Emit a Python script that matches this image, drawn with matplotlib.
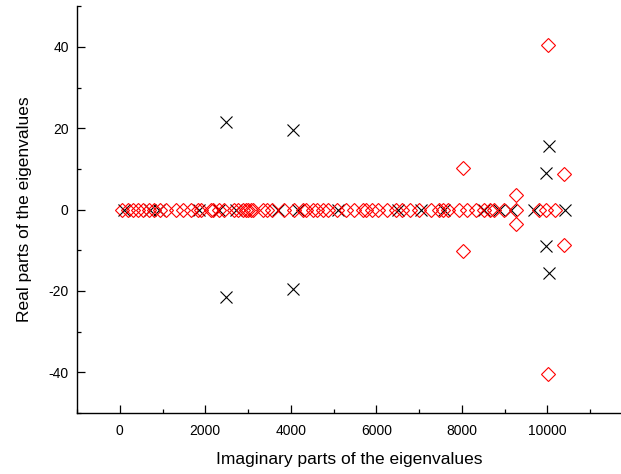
import matplotlib
matplotlib.use("Agg")
import matplotlib.pyplot as plt
from matplotlib.ticker import MultipleLocator

plt.rcParams['font.family'] = ['Liberation Sans', 'DejaVu Sans']
plt.rcParams['axes.unicode_minus'] = False

# Red diamonds on the real axis (imaginary parts)
red_axis_x = [60, 190, 300, 420, 540, 680, 810, 950, 1080, 1310, 1470, 1660,
              1830, 1900, 2130, 2170, 2320, 2440, 2670, 2760, 2880, 2950, 3010,
              3070, 3120, 3340, 3450, 3560, 3850, 4070, 4280, 4350, 4510, 4620,
              4750, 4860, 5090, 5300, 5480, 5700, 5760, 5910, 6030, 6260, 6455,
              6610, 6800, 7000, 7270, 7470, 7550, 7670, 7935, 8130, 8330, 8520,
              8670, 8750, 8990, 9280, 9800, 9960, 10170]
# Red diamonds off the axis (complex pairs)
red_pair_x = [8028, 9280, 10023, 10397]
red_pair_y = [10.2, 3.6, 40.5, 8.7]

# Black crosses on the real axis
black_axis_x = [100, 700, 920, 1850, 2320, 2720, 3700, 4160, 5100, 6500, 7040,
                7580, 8520, 8870, 9150, 9680, 10420]
# Black crosses off the axis (complex pairs)
black_pair_x = [2482, 4053, 9967, 10037]
black_pair_y = [21.4, 19.6, 8.9, 15.6]

fig = plt.figure(figsize=(6.21, 4.74), dpi=100)
ax = fig.add_axes([0.124, 0.129, 0.876, 0.858])

bx = black_axis_x + black_pair_x + black_pair_x
by = [0] * len(black_axis_x) + black_pair_y + [-v for v in black_pair_y]
ax.plot(bx, by, linestyle='none', marker='x', color='black', markersize=8.4,
        markeredgewidth=0.8)

rx = red_axis_x + red_pair_x + red_pair_x
ry = [0] * len(red_axis_x) + red_pair_y + [-v for v in red_pair_y]
ax.plot(rx, ry, linestyle='none', marker='D', markerfacecolor='none',
        markeredgecolor='red', markersize=7.2, markeredgewidth=0.8)

ax.set_xlim(-1000, 11725)
ax.set_ylim(-50, 50)
ax.xaxis.set_minor_locator(MultipleLocator(1000))
ax.yaxis.set_minor_locator(MultipleLocator(10))
ax.set_xticks([0, 2000, 4000, 6000, 8000, 10000])
ax.set_yticks([-40, -20, 0, 20, 40])

for s in ['top', 'right']:
    ax.spines[s].set_visible(False)
for s in ['left', 'bottom']:
    ax.spines[s].set_linewidth(1.0)

ax.tick_params(which='major', direction='in', length=6, width=0.9, labelsize=10)
ax.tick_params(which='minor', direction='in', length=3, width=0.9)
ax.tick_params(axis='x', which='major', pad=8)
ax.tick_params(axis='y', which='major', pad=6)

ax.set_xlabel('Imaginary parts of the eigenvalues', fontsize=12.5, labelpad=10)
ax.set_ylabel('Real parts of the eigenvalues', fontsize=12.5, labelpad=12)

fig.savefig('out.png', dpi=100)
